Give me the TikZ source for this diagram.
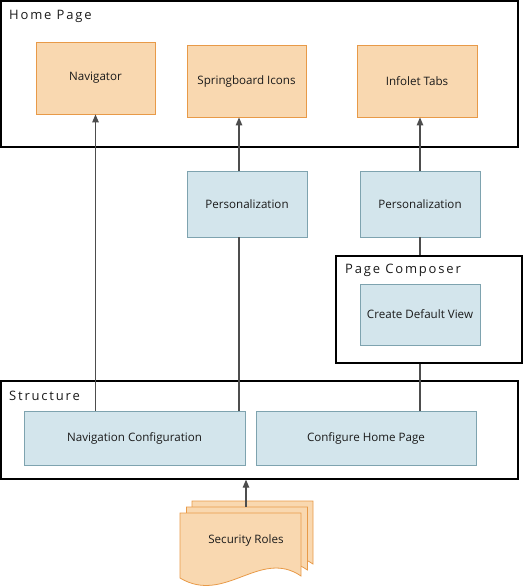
\documentclass[tikz,border=0pt]{standalone}
\usepackage{fontspec}
\setmainfont{Open Sans}
\newfontfamily\titlefont[LetterSpace=14]{Open Sans}
\usetikzlibrary{arrows.meta}
\definecolor{ofill}{HTML}{F9D8B0}
\definecolor{odraw}{HTML}{E89A48}
\definecolor{bfill}{HTML}{D3E5EC}
\definecolor{bdraw}{HTML}{7EA3AF}
\definecolor{conn}{HTML}{4D4D4D}
\definecolor{txt}{HTML}{1A1A1A}
\tikzset{
  obox/.style={draw=odraw, fill=ofill, line width=0.8pt, text=txt, font=\fontsize{11.6}{13}\selectfont, inner sep=0pt},
  bbox/.style={draw=bdraw, fill=bfill, line width=0.8pt, text=txt, font=\fontsize{11.6}{13}\selectfont, inner sep=0pt},
  frame/.style={draw=black, line width=1.3pt, inner sep=0pt},
  ftitle/.style={anchor=base west, inner sep=0pt, text=txt, font=\titlefont\fontsize{13}{15}\selectfont},
  arr/.style={draw=conn, line width=1.2pt, -{Triangle[length=8pt,width=6.5pt]}},
  ln/.style={draw=conn, line width=1.2pt},
  doc/.style={draw=odraw, fill=ofill, line width=0.8pt}
}
\begin{document}
\begin{tikzpicture}[x=1pt,y=-1pt]
\useasboundingbox (0,0) rectangle (527,586);
% Home Page frame
\node[frame, minimum width=517pt, minimum height=146pt] (hp) at (259.5,74) {};
\node[ftitle] (hpt) at (9,20) {Home Page};
\node[obox, minimum width=119pt, minimum height=72pt] (nav) at (95.5,78) {Navigator};
\node[obox, minimum width=119pt, minimum height=72pt] (sb) at (246.5,81) {Springboard Icons};
\node[obox, minimum width=120pt, minimum height=72pt] (inf) at (417,81) {Infolet Tabs};
% Personalization
\node[bbox, minimum width=120pt, minimum height=66pt] (p1) at (247,204) {Personalization};
\node[bbox, minimum width=120pt, minimum height=66pt] (p2) at (420,204) {Personalization};
% Page Composer
\node[frame, minimum width=186pt, minimum height=107pt] (pc) at (429,309.5) {};
\node[ftitle] (pct) at (345,273) {Page Composer};
\node[bbox, minimum width=120pt, minimum height=61pt] (cdv) at (420,314.5) {Create Default View};
% Structure
\node[frame, minimum width=517pt, minimum height=98pt] (st) at (259.5,430) {};
\node[ftitle] (stt) at (9,400) {Structure};
\node[bbox, minimum width=221pt, minimum height=54pt] (nc) at (134.5,438) {Navigation Configuration};
\node[bbox, minimum width=220pt, minimum height=54pt] (chp) at (366,438) {Configure Home Page};
% Security Roles (multi-document)
\foreach \dx/\dy in {12/-12, 6.5/-6, 0/0}{
  \begin{scope}[shift={(\dx,\dy)}]
    \path[doc] (180,513) -- (301,513) -- (301,576)
      .. controls (260,548) and (225,605) .. (180,578) -- cycle;
  \end{scope}
}
\node[text=txt, font=\fontsize{11.6}{13}\selectfont, inner sep=0pt] (sr) at (246,540) {Security Roles};
\coordinate (srtop) at (246,507);
% connectors
\draw[arr] (nc.north -| nav.south) -- (nav.south);
\draw[arr] ([xshift=-8pt]p1.north) -- ([xshift=-8pt]p1.north |- sb.south);
\draw[ln] ([xshift=-8pt]p1.south) -- ([xshift=-8pt]p1.south |- nc.north);
\draw[arr] (p2.north) -- (p2.north |- inf.south);
\draw[ln] (p2.south) -- (p2.south |- pc.north);
\draw[ln] (pc.south -| p2.south) -- (p2.south |- chp.north);
\draw[arr] (srtop) -- (srtop |- st.south);
\end{tikzpicture}
\end{document}
